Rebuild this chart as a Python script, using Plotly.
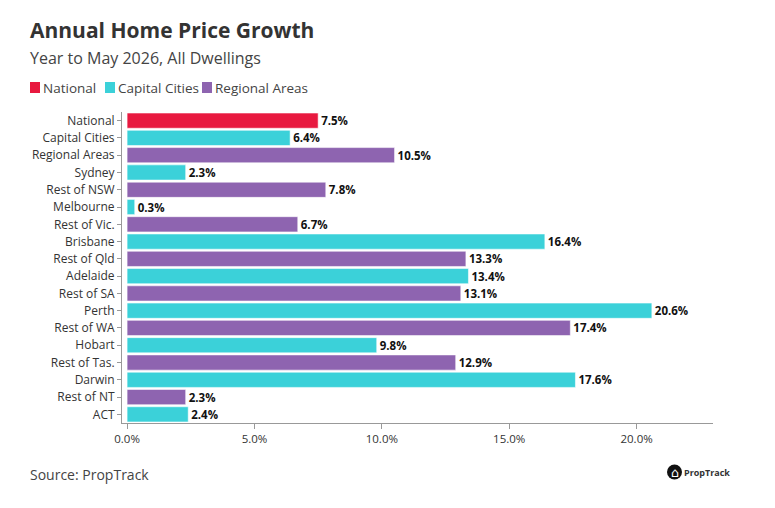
import plotly.graph_objects as go

regions = ["National", "Capital Cities", "Regional Areas", "Sydney", "Rest of NSW",
           "Melbourne", "Rest of Vic.", "Brisbane", "Rest of Qld", "Adelaide",
           "Rest of SA", "Perth", "Rest of WA", "Hobart", "Rest of Tas.",
           "Darwin", "Rest of NT", "ACT"]
growth = [7.5, 6.4, 10.5, 2.3, 7.8, 0.3, 6.7, 16.4, 13.3, 13.4, 13.1, 20.6,
          17.4, 9.8, 12.9, 17.6, 2.3, 2.4]
groups = ["National", "Capital Cities", "Regional Areas", "Capital Cities", "Regional Areas",
          "Capital Cities", "Regional Areas", "Capital Cities", "Regional Areas", "Capital Cities",
          "Regional Areas", "Capital Cities", "Regional Areas", "Capital Cities", "Regional Areas",
          "Capital Cities", "Regional Areas", "Capital Cities"]
group_names = ["National", "Capital Cities", "Regional Areas"]
group_colors = {"National": "#E8193F", "Capital Cities": "#3BD1D9", "Regional Areas": "#8E64B0"}
x_ticks = [0, 5, 10, 15, 20]

FONT = "Open Sans"
L, T, PW, PH = 122, 112, 591, 311  # plot area in pixels


def px_x(x):
    return (x - L) / PW


def px_y(y):
    return 1 - (y - T) / PH


fig = go.Figure(go.Bar(
    y=regions, x=growth, orientation="h",
    marker=dict(color=[group_colors[g] for g in groups],
                line=dict(color="rgba(255,255,255,0.55)", width=1)),
    text=[f"{v:.1f}%" for v in growth], textposition="outside",
    textfont=dict(family=FONT, size=11.5, color="#111", weight="bold"),
    cliponaxis=False, showlegend=False, hoverinfo="skip",
))

fig.update_layout(
    width=775, height=508,
    margin=dict(l=L, r=775 - L - PW, t=T, b=508 - T - PH, autoexpand=False),
    paper_bgcolor="white", plot_bgcolor="white",
    font=dict(family=FONT, color="#333"),
    bargap=0.12,
    xaxis=dict(range=[-0.2, 23], tickvals=x_ticks, ticktext=[f"{t:.1f}%" for t in x_ticks],
               automargin=False,
               showgrid=False, zeroline=False, showline=True, linecolor="#999", linewidth=1,
               ticks="outside", ticklen=5, tickcolor="#999",
               tickfont=dict(family=FONT, size=11.5, color="#333")),
    yaxis=dict(categoryorder="array", categoryarray=regions, autorange="reversed",
               automargin=False,
               showgrid=False, zeroline=False, showline=True, linecolor="#999", linewidth=1,
               ticks="outside", ticklen=4, tickcolor="#999",
               tickfont=dict(family=FONT, size=12, color="#333")),
)

# Title, subtitle, source
fig.add_annotation(text="<b>Annual Home Price Growth</b>", xref="paper", yref="paper",
                   x=px_x(28), y=px_y(30), xanchor="left", yanchor="middle",
                   showarrow=False, font=dict(family=FONT, size=21, color="#333"))
fig.add_annotation(text="Year to May 2026, All Dwellings", xref="paper", yref="paper",
                   x=px_x(28), y=px_y(58), xanchor="left", yanchor="middle",
                   showarrow=False, font=dict(family=FONT, size=16, color="#444"))
fig.add_annotation(text="Source: PropTrack", xref="paper", yref="paper",
                   x=px_x(28), y=px_y(474), xanchor="left", yanchor="middle",
                   showarrow=False, font=dict(family=FONT, size=14, color="#444"))

# Legend (manual)
leg_x = [30, 105, 202]
for px, name in zip(leg_x, group_names):
    fig.add_shape(type="rect", xref="paper", yref="paper",
                  x0=px_x(px), x1=px_x(px + 10), y0=px_y(93), y1=px_y(82),
                  fillcolor=group_colors[name], line=dict(width=0))
    fig.add_annotation(text=name, xref="paper", yref="paper", x=px_x(px + 11),
                       y=px_y(87.5), xanchor="left", yanchor="middle",
                       showarrow=False, font=dict(family=FONT, size=13.5, color="#444"))

# PropTrack logo
cx, cy, r = 674.5, 472, 7.5
fig.add_shape(type="circle", xref="paper", yref="paper",
              x0=px_x(cx - r), x1=px_x(cx + r), y0=px_y(cy + r), y1=px_y(cy - r),
              fillcolor="#111", line=dict(width=0))
fig.add_annotation(text="⌂", xref="paper", yref="paper", x=px_x(cx), y=px_y(cy + 0.5),
                   xanchor="center", yanchor="middle", showarrow=False,
                   font=dict(family="DejaVu Sans", size=13, color="white"))
fig.add_annotation(text="<b>PropTrack</b>", xref="paper", yref="paper", x=px_x(682),
                   y=px_y(472), xanchor="left", yanchor="middle", showarrow=False,
                   font=dict(family=FONT, size=9, color="#333"))

fig.write_html("out.html", config={"displayModeBar": False},
               post_script="document.body.style.margin='0';")
